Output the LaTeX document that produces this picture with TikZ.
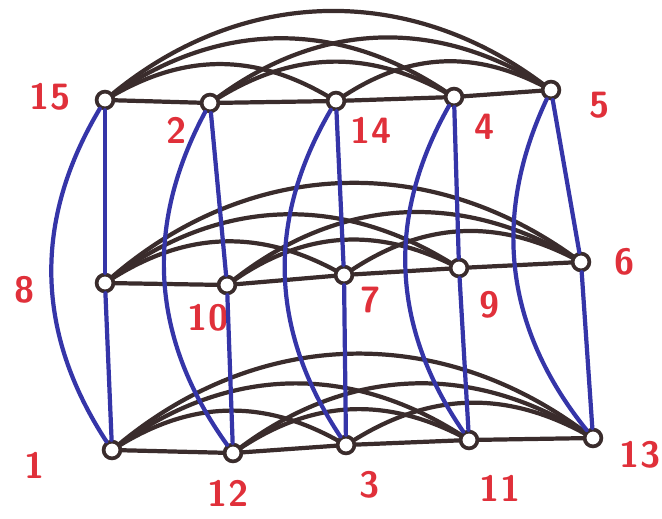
\documentclass[tikz,border=0pt]{standalone}
\usepackage{tikz}
\usetikzlibrary{positioning}
\definecolor{cInk}{HTML}{3A2C2C}
\definecolor{cBlue}{HTML}{3535A8}
\definecolor{cRed}{HTML}{E0303A}

\begin{document}
\begin{tikzpicture}[x=0.025cm,y=-0.025cm,
  vtx/.style={circle,draw=cInk,line width=2.6pt,minimum size=0.42cm,inner sep=0pt},
  row/.style={cInk,line width=3pt,line cap=round},
  col/.style={cBlue,line width=3pt,line cap=round},
  num/.style={text=cRed,font=\sffamily\bfseries\fontsize{26}{28}\selectfont,inner sep=0pt}]
\useasboundingbox (0,0) rectangle (662,518);

% vertices, top / middle / bottom
\node[vtx] (v15) at (105,100) {};
\node[vtx] (v2)  at (210,103) {};
\node[vtx] (v14) at (336,101) {};
\node[vtx] (v4)  at (454,97) {};
\node[vtx] (v5)  at (551,90) {};

\node[vtx] (v8)  at (105,283) {};
\node[vtx] (v10) at (227,285) {};
\node[vtx] (v7)  at (344,275) {};
\node[vtx] (v9)  at (459,268) {};
\node[vtx] (v6)  at (581,262) {};

\node[vtx] (v1)  at (112,450) {};
\node[vtx] (v12) at (233,453) {};
\node[vtx] (v3)  at (346,445) {};
\node[vtx] (v11) at (469,440) {};
\node[vtx] (v13) at (593,438) {};

% labels
\node[num] (n15) at (50,97)  {15};
\node[num] (n2)  at (177,130) {2};
\node[num] (n14) at (371,130) {14};
\node[num] (n4)  at (485,127) {4};
\node[num] (n5)  at (600,105) {5};
\node[num] (n8)  at (25,290)  {8};
\node[num] (n10) at (208,318) {10};
\node[num] (n7)  at (371,300) {7};
\node[num] (n9)  at (490,305) {9};
\node[num] (n6)  at (625,262) {6};
\node[num] (n1)  at (35,465)  {1};
\node[num] (n12) at (228,493) {12};
\node[num] (n3)  at (370,485) {3};
\node[num] (n11) at (500,488) {11};
\node[num] (n13) at (640,455) {13};

% rows
\foreach \a/\b in {15/2,2/14,14/4,4/5,8/10,10/7,7/9,9/6,1/12,12/3,3/11,11/13}
  \draw[row] (v\a) -- (v\b);
\foreach \a/\b in {15/14,2/4,14/5,8/7,10/9,7/6,1/3,12/11,3/13}
  \draw[row] (v\a) to[bend left=30] (v\b);
\foreach \a/\b in {15/4,2/5,8/9,10/6,1/11,12/13}
  \draw[row] (v\a) to[bend left=34] (v\b);
\foreach \a/\b in {15/5,8/6,1/13}
  \draw[row] (v\a) to[bend left=38] (v\b);

% columns
\foreach \t/\m/\b in {15/8/1,2/10/12,14/7/3,4/9/11,5/6/13} {
  \draw[col] (v\t) -- (v\m);
  \draw[col] (v\m) -- (v\b);
  \draw[col] (v\t) to[bend right=32] (v\b);
}
\end{tikzpicture}
\end{document}
